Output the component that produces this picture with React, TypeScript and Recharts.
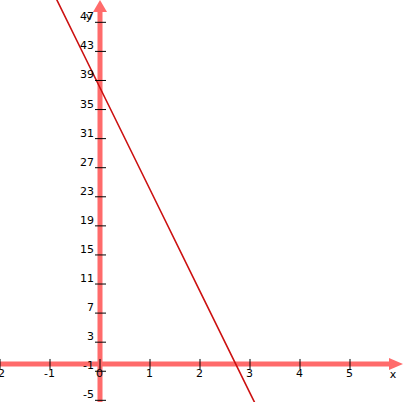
import React from 'react';
import { LineChart, Line, XAxis, YAxis, ReferenceLine, ReferenceDot } from 'recharts';

const lineX = [-1, 0, 1, 2, 3, 3.5];
const lineY = [52, 38, 24, 10, -4, -11];
const xTicks = [-2, -1, 0, 1, 2, 3, 4, 5];
const yTicks = [47, 43, 39, 35, 31, 27, 23, 19, 15, 11, 7, 3, -1, -5];
const xDomain: [number, number] = [-2, 6.16];
const yDomain: [number, number] = [-5.23, 50.07];

const data = lineX.map((x, i) => ({ x, y: lineY[i] }));

const AXIS = '#FF6B6B';
const LINE = '#CC1111';
const FONT = 'DejaVu Sans, sans-serif';

const XTick = (props: any) => {
  const { cx, cy, label } = props;
  return (
    <g>
      <line x1={cx} x2={cx} y1={cy - 5} y2={cy + 5} stroke="#000" strokeWidth={1} />
      <text x={cx - 0.5} y={cy + 13} textAnchor="middle" fontSize={11} fontFamily={FONT} fill="#000">
        {label}
      </text>
    </g>
  );
};

const YTick = (props: any) => {
  const { cx, cy, label } = props;
  return (
    <g>
      <line x1={cx - 5} x2={cx + 6} y1={cy} y2={cy} stroke="#000" strokeWidth={1} />
      <text x={cx - 6} y={cy - 2} textAnchor="end" fontSize={11} fontFamily={FONT} fill="#000">
        {label}
      </text>
    </g>
  );
};

const UpArrow = (props: any) => {
  const { cx, cy } = props;
  return (
    <g>
      <polygon points={`${cx},${cy} ${cx - 7},${cy + 12} ${cx + 7},${cy + 12}`} fill={AXIS} />
      <text x={cx - 11} y={cy + 20} textAnchor="middle" fontSize={11} fontFamily={FONT} fill="#000">
        y
      </text>
    </g>
  );
};

const RightArrow = (props: any) => {
  const { cx, cy } = props;
  return (
    <g>
      <polygon points={`${cx},${cy} ${cx - 14},${cy - 6} ${cx - 14},${cy + 6}`} fill={AXIS} />
      <text x={cx - 10} y={cy + 14} textAnchor="middle" fontSize={11} fontFamily={FONT} fill="#000">
        x
      </text>
    </g>
  );
};

export default function App() {
  return (
    <div style={{ width: 408, height: 402, background: '#fff' }}>
      <style>{`body{margin:0;background:#fff}`}</style>
      <LineChart width={408} height={402} data={data} margin={{ top: 0, right: 0, bottom: 0, left: 0 }}>
        <XAxis type="number" dataKey="x" domain={xDomain} allowDataOverflow hide />
        <YAxis type="number" domain={yDomain} allowDataOverflow hide />
        <ReferenceLine
          segment={[{ x: 0, y: yDomain[0] }, { x: 0, y: 48.6 }]}
          stroke={AXIS}
          strokeWidth={5}
          ifOverflow="visible"
        />
        <ReferenceLine
          segment={[{ x: xDomain[0], y: 0 }, { x: 5.8, y: 0 }]}
          stroke={AXIS}
          strokeWidth={5}
          ifOverflow="visible"
        />
        <ReferenceDot x={0} y={yDomain[1]} r={1} ifOverflow="visible" shape={(p: any) => <UpArrow {...p} />} />
        <ReferenceDot x={6.06} y={0} r={1} ifOverflow="visible" shape={(p: any) => <RightArrow {...p} />} />
        {xTicks.map((t) => (
          <ReferenceDot key={'x' + t} x={t} y={0} r={1} ifOverflow="visible" shape={(p: any) => <XTick {...p} label={String(t)} />} />
        ))}
        {yTicks.map((t) => (
          <ReferenceDot key={'y' + t} x={0} y={t} r={1} ifOverflow="visible" shape={(p: any) => <YTick {...p} label={String(t)} />} />
        ))}
        <Line
          type="linear"
          dataKey="y"
          stroke={LINE}
          strokeWidth={1.6}
          dot={false}
          activeDot={false}
          isAnimationActive={false}
        />
      </LineChart>
    </div>
  );
}
